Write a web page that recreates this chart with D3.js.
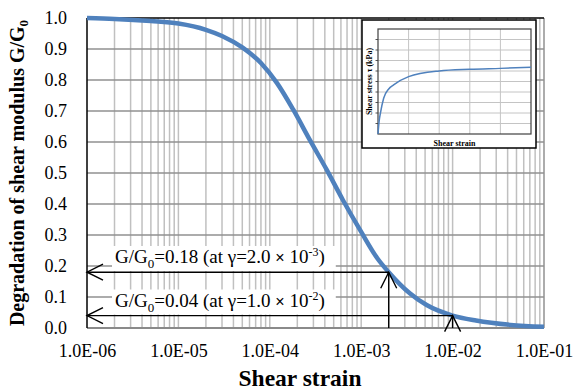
<!DOCTYPE html>
<html>
<head>
<meta charset="utf-8">
<script src="https://cdn.jsdelivr.net/npm/d3@7"></script>
<style>
  html, body { margin: 0; padding: 0; background: #fff; }
  svg { display: block; font-family: "Liberation Serif", "Times New Roman", serif; }
</style>
</head>
<body>
<svg id="chart" width="574" height="391"></svg>
<script>
// Modulus degradation curve G/G0 versus shear strain
const strain = [1e-6, 2e-6, 5e-6, 1e-5, 2e-5, 3e-5, 5e-5, 8e-5, 1.2e-4, 1.8e-4, 2.75e-4, 4.2e-4, 6.3e-4, 1e-3, 1.5e-3, 2e-3, 3.4e-3, 5.2e-3, 1e-2, 1.8e-2, 4.3e-2, 1e-1];
const ratio  = [1.0, 0.997, 0.99, 0.982, 0.962, 0.942, 0.905, 0.855, 0.79, 0.705, 0.606, 0.51, 0.413, 0.31, 0.225, 0.18, 0.112, 0.074, 0.04, 0.024, 0.01, 0.004];

// Tick labels
const xTickValues = [1e-6, 1e-5, 1e-4, 1e-3, 1e-2, 1e-1];
const xTickLabels = ["1.0E-06", "1.0E-05", "1.0E-04", "1.0E-03", "1.0E-02", "1.0E-01"];
const yTickValues = [0, 0.1, 0.2, 0.3, 0.4, 0.5, 0.6, 0.7, 0.8, 0.9, 1.0];

// Marked points on the curve
const markStrain = [2e-3, 1e-2];
const markRatio  = [0.18, 0.04];
const markMantissa = ["2.0", "1.0"];
const markExponent = ["-3", "-2"];

// Inset: stress-strain backbone curve (arbitrary units)
const insetStrain = [0, 0.04, 0.08, 0.185, 0.35, 0.51, 1.0, 2.0, 3.0, 4.0, 5.0];
const insetStress = [0, 1.3, 2.0, 3.4, 4.29, 4.67, 5.46, 6.0, 6.16, 6.25, 6.35];

const svg = d3.select("#chart");
const L = 87, R = 544, T = 18, B = 328;

const x = d3.scaleLog().domain([1e-6, 1e-1]).range([L, R]);
const y = d3.scaleLinear().domain([0, 1]).range([B, T]);

svg.append("rect").attr("width", 574).attr("height", 391).attr("fill", "#fff");

// Log grid: every 1..9 x 10^k
const minorTicks = [];
for (let e = -6; e < -1; e++) {
  for (let m = 1; m <= 9; m++) minorTicks.push(m * Math.pow(10, e));
}

svg.append("g").selectAll("line").data(minorTicks.filter(v => v > 1e-6 && v < 1e-1)).join("line")
  .attr("x1", d => x(d)).attr("x2", d => x(d))
  .attr("y1", T).attr("y2", B)
  .attr("stroke", "#c0c0c0").attr("stroke-width", 1.5);

svg.append("g").selectAll("line").data(yTickValues.filter(v => v > 0 && v < 1)).join("line")
  .attr("x1", L).attr("x2", R)
  .attr("y1", d => y(d)).attr("y2", d => y(d))
  .attr("stroke", "#909090").attr("stroke-width", 1.5);

// Plot frame
svg.append("line").attr("x1", R).attr("x2", R).attr("y1", T).attr("y2", B)
  .attr("stroke", "#909090").attr("stroke-width", 1.5);
svg.append("line").attr("x1", L).attr("x2", R).attr("y1", B).attr("y2", B)
  .attr("stroke", "#8a8a8a").attr("stroke-width", 2);
svg.append("line").attr("x1", L).attr("x2", R).attr("y1", T).attr("y2", T)
  .attr("stroke", "#000").attr("stroke-width", 1.5);
svg.append("line").attr("x1", L).attr("x2", L).attr("y1", T).attr("y2", B)
  .attr("stroke", "#000").attr("stroke-width", 1.5);

// Axes labels
const xAxis = d3.axisBottom(x).tickValues(xTickValues)
  .tickFormat((d, i) => xTickLabels[i]).tickSize(0).tickPadding(0);
const gx = svg.append("g").attr("transform", `translate(0,${B})`).call(xAxis);
gx.attr("font-family", null).attr("font-size", null);
gx.select(".domain").remove();
gx.selectAll("text").attr("font-family", "Liberation Serif").attr("font-size", 18)
  .attr("fill", "#000").attr("dy", null).attr("y", 29);

const yAxis = d3.axisLeft(y).tickValues(yTickValues)
  .tickFormat(d3.format(".1f")).tickSize(0).tickPadding(20);
const gy = svg.append("g").attr("transform", `translate(${L},0)`).call(yAxis);
gy.attr("font-family", null).attr("font-size", null);
gy.select(".domain").remove();
gy.selectAll("text").attr("font-family", "Liberation Serif").attr("font-size", 18).attr("fill", "#000");

svg.append("text").attr("x", 300).attr("y", 386).attr("text-anchor", "middle")
  .attr("font-size", 23.5).attr("font-weight", "bold").text("Shear strain");

const yl = svg.append("text").attr("transform", `translate(24,${(T + B) / 2}) rotate(-90)`)
  .attr("text-anchor", "middle").attr("font-size", 20).attr("font-weight", "bold");
yl.append("tspan").text("Degradation of shear modulus G/G");
yl.append("tspan").attr("font-size", 13).attr("dy", 4).text("0");

// Annotations with white backing boxes
const labelBaselines = [263, 306.5];
markRatio.forEach((r, i) => {
  const g = svg.append("g");
  const bg = g.append("rect").attr("fill", "#fff");
  const t = g.append("text").attr("x", 115).attr("y", labelBaselines[i]).attr("font-size", 19);
  t.append("tspan").text("G/G");
  t.append("tspan").attr("font-size", 13).attr("dy", 5).text("0");
  t.append("tspan").attr("dy", -5).text("=" + d3.format(".2f")(r) + " (at γ=" + markMantissa[i] + " ");
  t.append("tspan").attr("font-family", "Liberation Sans").attr("font-size", 16).text("×");
  t.append("tspan").text(" 10");
  t.append("tspan").attr("font-size", 12).attr("dy", -7).text(markExponent[i]);
  t.append("tspan").attr("dy", 7).text(")");
  const bb = t.node().getBBox();
  bg.attr("x", bb.x - 3).attr("y", bb.y + 1).attr("width", bb.width + 14).attr("height", bb.height - 1);
});

// Blue degradation curve
const line = d3.line().x(d => x(d[0])).y(d => y(d[1])).curve(d3.curveMonotoneX);
svg.append("path").datum(strain.map((s, i) => [s, ratio[i]]))
  .attr("d", line).attr("fill", "none").attr("stroke", "#4f81bd")
  .attr("stroke-width", 4.5).attr("stroke-linecap", "butt");

// Reading arrows
const head = 16, half = 8;
markRatio.forEach((r, i) => {
  const px = x(markStrain[i]), py = y(r);
  const g = svg.append("g").attr("stroke", "#000").attr("stroke-width", 1.4).attr("fill", "none");
  g.append("line").attr("x1", px).attr("x2", L).attr("y1", py).attr("y2", py);
  g.append("path").attr("d", `M${L + head},${py - half}L${L},${py}L${L + head},${py + half}`);
  g.append("line").attr("x1", px).attr("x2", px).attr("y1", B).attr("y2", py);
  g.append("path").attr("d", `M${px - half},${py + head}L${px},${py}L${px + half},${py + head}`);
});

// Inset: shear stress vs shear strain
const iL = 378, iR = 531, iT = 29, iB = 134;
svg.append("rect").attr("x", 362).attr("y", 20).attr("width", 174).attr("height", 128)
  .attr("fill", "#fff").attr("stroke", "#000").attr("stroke-width", 1.5);

const ix = d3.scaleLinear().domain([0, 5]).range([iL, iR]);
const iy = d3.scaleLinear().domain([0, 10]).range([iB, iT]);

svg.append("g").selectAll("line").data(d3.range(1, 5)).join("line")
  .attr("x1", d => ix(d)).attr("x2", d => ix(d)).attr("y1", iT).attr("y2", iB)
  .attr("stroke", "#c4c4c4").attr("stroke-width", 1);
svg.append("g").selectAll("line").data(d3.range(1, 10)).join("line")
  .attr("x1", iL).attr("x2", iR).attr("y1", d => iy(d)).attr("y2", d => iy(d))
  .attr("stroke", "#c4c4c4").attr("stroke-width", 1);
svg.append("g").selectAll("line").data(d3.range(1, 10)).join("line")
  .attr("x1", iL - 2.5).attr("x2", iL).attr("y1", d => iy(d)).attr("y2", d => iy(d))
  .attr("stroke", "#555").attr("stroke-width", 1);
svg.append("rect").attr("x", iL).attr("y", iT).attr("width", iR - iL).attr("height", iB - iT)
  .attr("fill", "none").attr("stroke", "#404040").attr("stroke-width", 1.2);

const iline = d3.line().x(d => ix(d[0])).y(d => iy(d[1])).curve(d3.curveMonotoneX);
svg.append("path").datum(insetStrain.map((s, i) => [s, insetStress[i]]))
  .attr("d", iline).attr("fill", "none").attr("stroke", "#4f81bd").attr("stroke-width", 1.5);

svg.append("text").attr("x", (iL + iR) / 2).attr("y", 146).attr("text-anchor", "middle")
  .attr("font-size", 8).attr("font-weight", "bold").text("Shear strain");
svg.append("text").attr("transform", `translate(372,${(iT + iB) / 2}) rotate(-90)`)
  .attr("text-anchor", "middle").attr("font-size", 8).attr("font-weight", "bold")
  .text("Shear stress τ (kPa)");
</script>
</body>
</html>
